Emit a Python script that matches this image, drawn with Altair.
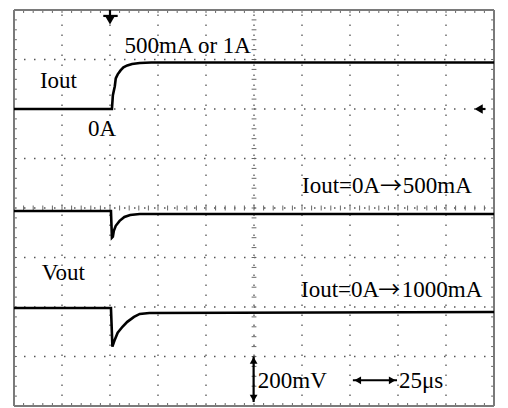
import altair as alt
import pandas as pd

# ---- traces: time in microseconds (25 us/div), level in screen divisions (0 = bottom, 8 = top)
iout_t = [0, 51, 51.5, 52.5, 53, 54, 55.5, 57, 59, 61.5, 65.5, 71.5, 250]
iout_y = [6.0, 6.0, 6.28, 6.46, 6.62, 6.70, 6.78, 6.84, 6.88, 6.91, 6.93, 6.94, 6.94]

vout1_t = [0, 50.5, 51, 51.5, 52, 53, 55, 57.5, 60.5, 65.5, 250]
vout1_y = [3.94, 3.94, 3.40, 3.42, 3.54, 3.64, 3.74, 3.82, 3.86, 3.88, 3.88]

vout2_t = [0, 50.5, 51.25, 52.5, 54, 56.5, 59, 62.5, 65.5, 70.5, 250]
vout2_y = [1.98, 1.98, 1.20, 1.34, 1.48, 1.60, 1.70, 1.80, 1.86, 1.88, 1.90]

# ---- annotations
labels = ["500mA or 1A", "Iout", "0A", "Iout=0A", "500mA", "Vout",
          "Iout=0A", "1000mA", "200mV", "25\u03bcs"]
label_t = [57.5, 13.5, 38.5, 150, 202.5, 14.5, 149.5, 202, 127, 200.5]
label_y = [7.14, 6.42, 5.46, 4.30, 4.30, 2.54, 2.20, 2.20, 0.36, 0.36]

arrow_labels = ["\u2192", "\u2192"]
arrow_t = [196.3, 195.5]
arrow_y = [4.30, 2.20]

# ---- screen grid (10 x 8 divisions)
x_div = [25 * i for i in range(11)]
y_div = list(range(9))
X0, X1, Y0, Y1 = 0, 250, 0, 8

xs = alt.Scale(domain=[X0, X1], nice=False, zero=False)
ys = alt.Scale(domain=[Y0, Y1], nice=False, zero=False)


def enc(**kw):
    out = {}
    for k, v in kw.items():
        if k == "x":
            out[k] = alt.X(v, type="quantitative", scale=xs, axis=None)
        elif k == "y":
            out[k] = alt.Y(v, type="quantitative", scale=ys, axis=None)
        elif k == "x2":
            out[k] = alt.X2(v)
        elif k == "y2":
            out[k] = alt.Y2(v)
    return out


trace_df = pd.concat([
    pd.DataFrame({"t": iout_t, "v": iout_y, "s": "Iout"}),
    pd.DataFrame({"t": vout1_t, "v": vout1_y, "s": "Vout1"}),
    pd.DataFrame({"t": vout2_t, "v": vout2_y, "s": "Vout2"}),
])

# dotted interior grid lines
grid_rows = []
for gx in x_div[1:-1]:
    grid_rows.append({"x": gx, "x2": gx, "y": Y0, "y2": Y1})
for gy in y_div[1:-1]:
    grid_rows.append({"x": X0, "x2": X1, "y": gy, "y2": gy})
grid_df = pd.DataFrame(grid_rows)

# border frame
frame_df = pd.DataFrame([
    {"x": X0, "x2": X1, "y": Y0, "y2": Y0},
    {"x": X0, "x2": X1, "y": Y1, "y2": Y1},
    {"x": X0, "x2": X0, "y": Y0, "y2": Y1},
    {"x": X1, "x2": X1, "y": Y0, "y2": Y1},
])

# minor ticks (every 1/5 division) on frame and on the centre cross
tick_rows = []
for i in range(51):
    t = i * 5
    tick_rows.append({"x": t, "x2": t, "y": 4 - 0.05, "y2": 4 + 0.05})
    tick_rows.append({"x": t, "x2": t, "y": Y1, "y2": Y1 - 0.06})
    tick_rows.append({"x": t, "x2": t, "y": Y0, "y2": Y0 + 0.06})
for i in range(41):
    v = i * 0.2
    tick_rows.append({"x": 125 - 1.25, "x2": 125 + 1.25, "y": v, "y2": v})
    tick_rows.append({"x": X0, "x2": X0 + 1.5, "y": v, "y2": v})
    tick_rows.append({"x": X1 - 1.5, "x2": X1, "y": v, "y2": v})
tick_df = pd.DataFrame(tick_rows)

# marker / scale arrows (shafts)
arrow_df = pd.DataFrame([
    {"x": 50, "x2": 50, "y": 8.0, "y2": 7.88},        # trigger stem
    {"x": 46.5, "x2": 54, "y": 7.88, "y2": 7.88},     # trigger bar
    {"x": 243, "x2": 245.5, "y": 6.0, "y2": 6.0},     # level marker bar
    {"x": 124.8, "x2": 124.8, "y": 0.08, "y2": 1.00}, # 200mV arrow
    {"x": 176.5, "x2": 199.5, "y": 0.52, "y2": 0.52}, # 25us arrow
])
head_df = pd.DataFrame([
    {"x": 50, "y": 7.79, "shape": "triangle-down", "size": 90},
    {"x": 242, "y": 6.0, "shape": "triangle-left", "size": 90},
    {"x": 124.8, "y": 0.92, "shape": "triangle-up", "size": 60},
    {"x": 124.8, "y": 0.16, "shape": "triangle-down", "size": 60},
    {"x": 179, "y": 0.52, "shape": "triangle-left", "size": 60},
    {"x": 197, "y": 0.52, "shape": "triangle-right", "size": 60},
])

label_df = pd.DataFrame({"x": label_t, "y": label_y, "label": labels})
arrowtxt_df = pd.DataFrame({"x": arrow_t, "y": arrow_y, "label": arrow_labels})

grid = alt.Chart(grid_df).mark_rule(
    color="#555555", strokeWidth=1.3, strokeDash=[1.5, 8.5]
).encode(**enc(x="x", x2="x2", y="y", y2="y2"))

frame = alt.Chart(frame_df).mark_rule(
    color="#7a7a7a", strokeWidth=2
).encode(**enc(x="x", x2="x2", y="y", y2="y2"))

ticks = alt.Chart(tick_df).mark_rule(
    color="#666666", strokeWidth=1
).encode(**enc(x="x", x2="x2", y="y", y2="y2"))

traces = alt.Chart(trace_df).mark_line(
    color="black", strokeWidth=2.6, interpolate="linear"
).encode(**enc(x="t", y="v"), detail="s:N")

shafts = alt.Chart(arrow_df).mark_rule(
    color="black", strokeWidth=2.2
).encode(**enc(x="x", x2="x2", y="y", y2="y2"))

heads = alt.Chart(head_df).mark_point(
    filled=True, color="black", opacity=1, strokeWidth=0
).encode(**enc(x="x", y="y"),
         shape=alt.Shape("shape:N", scale=None),
         size=alt.Size("size:Q", scale=None))

texts = alt.Chart(label_df).mark_text(
    align="left", baseline="alphabetic", font="Liberation Serif",
    fontSize=23, color="black"
).encode(**enc(x="x", y="y"), text="label:N")

arrow_texts = alt.Chart(arrowtxt_df).mark_text(
    align="center", baseline="alphabetic", font="Noto Sans CJK SC",
    fontSize=22, color="black"
).encode(**enc(x="x", y="y"), text="label:N")

chart = alt.layer(grid, ticks, frame, traces, shafts, heads, texts, arrow_texts).properties(
    width=492, height=399,
    padding={"left": 0, "top": 0, "right": 0, "bottom": 0},
    autosize=alt.AutoSizeParams(type="fit", contains="padding"),
    background="white"
).configure_view(stroke=None)

chart.save("out.html", embed_options={"renderer": "svg", "actions": False})
